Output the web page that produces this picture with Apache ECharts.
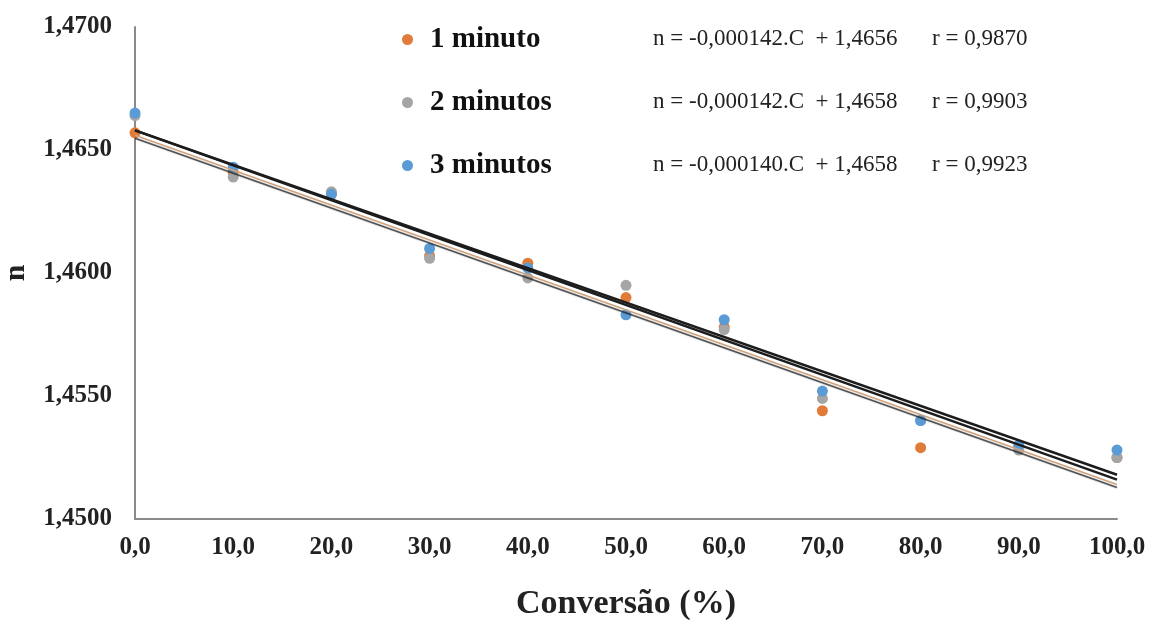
<!DOCTYPE html>
<html>
<head>
<meta charset="utf-8">
<script src="https://cdn.jsdelivr.net/npm/echarts@6/dist/echarts.min.js"></script>
<style>
  html, body { margin: 0; padding: 0; background: #fff; }
  #chart { width: 1151px; height: 621px; }
</style>
</head>
<body>
<div id="chart"></div>
<script>
// Conversion levels (%)
const conversao = [0, 10, 20, 30, 40, 50, 60, 70, 80, 90, 100];
// Measured refractive index n for each reaction time
const n1min = [1.4657, 1.4641, 1.4632, 1.4607, 1.4604, 1.4590, 1.4578, 1.4544, 1.4529, 1.4529, 1.4525];
const n2min = [1.4664, 1.4639, 1.4633, 1.4606, 1.4598, 1.4595, 1.4577, 1.4549, 1.4540, 1.4528, 1.4525];
const n3min = [1.4665, 1.4643, 1.4632, 1.4610, 1.4602, 1.4583, 1.4581, 1.4552, 1.4540, 1.4530, 1.4528];
// Linear fits: n = slope.C + intercept, with correlation r
const seriesNames = ['1 minuto', '2 minutos', '3 minutos'];
const slopes = [-0.000142, -0.000142, -0.000140];
const intercepts = [1.4656, 1.4658, 1.4658];
const rValues = [0.9870, 0.9903, 0.9923];
const yTicks = [1.45, 1.455, 1.46, 1.465, 1.47];

const colors = ['#E07B39', '#A5A5A5', '#5B9BD5'];
const serif = '"Liberation Serif", "Times New Roman", serif';
const fmt = (v, d) => v.toFixed(d).replace('.', ',');

const pointSets = [n1min, n2min, n3min];
const scatterSeries = pointSets.map((vals, i) => ({
  name: seriesNames[i],
  type: 'scatter',
  symbolSize: 11,
  itemStyle: { color: colors[i], opacity: 1 },
  data: conversao.map((c, k) => [c, vals[k]]),
  z: 3
}));

const lineStyles = [
  { color: '#cfa27c', width: 1.5, shadowColor: 'rgba(30,30,30,0.9)', shadowOffsetY: 3, shadowBlur: 1 },
  { color: '#1c1c1c', width: 2.5 },
  { color: '#1c1c1c', width: 2.5 }
];
const fitSeries = slopes.map((m, i) => ({
  name: 'fit ' + seriesNames[i],
  type: 'line',
  symbol: 'none',
  silent: true,
  lineStyle: lineStyles[i],
  data: [0, 100].map(c => [c, intercepts[i] + m * c]),
  z: i === 0 ? 5 : 4
}));

// Equation and r text next to each legend entry
const eqGraphics = [];
seriesNames.forEach((nm, i) => {
  const y = 38 + i * 63;
  const sign = slopes[i] < 0 ? '-' : '';
  eqGraphics.push({
    type: 'text', left: 653, top: y - 11,
    style: {
      text: 'n = ' + sign + fmt(Math.abs(slopes[i]), 6) + '.C  + ' + fmt(intercepts[i], 4),
      font: '23px ' + serif, fill: '#222'
    }
  });
  eqGraphics.push({
    type: 'text', left: 932, top: y - 11,
    style: { text: 'r = ' + fmt(rValues[i], 4), font: '23px ' + serif, fill: '#222' }
  });
});

const chart = echarts.init(document.getElementById('chart'));
chart.setOption({
  animation: false,
  backgroundColor: '#fff',
  grid: { left: 135, right: 34, top: 27, bottom: 102, containLabel: false, outerBoundsMode: 'none' },
  legend: {
    data: seriesNames,
    orient: 'vertical',
    left: 397,
    top: 20,
    itemGap: 34,
    itemWidth: 11,
    itemHeight: 11,
    icon: 'circle',
    textStyle: { fontFamily: serif, fontWeight: 'bold', fontSize: 29, color: '#111', padding: [0, 0, 0, 12] }
  },
  xAxis: {
    type: 'value',
    min: 0, max: 100, interval: 10,
    name: 'Conversão (%)',
    nameLocation: 'middle',
    nameGap: 68,
    nameTextStyle: { fontFamily: serif, fontWeight: 'bold', fontSize: 34, color: '#222' },
    axisLine: { show: true, lineStyle: { color: '#8a8a8a', width: 2 } },
    axisTick: { show: false },
    splitLine: { show: false },
    axisLabel: {
      margin: 16, fontFamily: serif, fontWeight: 'bold', fontSize: 25, color: '#222',
      formatter: v => fmt(v, 1)
    }
  },
  yAxis: {
    type: 'value',
    min: yTicks[0], max: yTicks[yTicks.length - 1], interval: 0.005,
    name: 'n',
    nameLocation: 'middle',
    nameGap: 104,
    nameRotate: 90,
    nameTextStyle: { fontFamily: serif, fontWeight: 'bold', fontSize: 30, color: '#222' },
    axisLine: { show: true, lineStyle: { color: '#8a8a8a', width: 2 } },
    axisTick: { show: false },
    splitLine: { show: false },
    axisLabel: {
      margin: 23, fontFamily: serif, fontWeight: 'bold', fontSize: 25, color: '#222',
      formatter: v => fmt(v, 4)
    }
  },
  graphic: eqGraphics,
  series: [...fitSeries, ...scatterSeries]
});
</script>
</body>
</html>
